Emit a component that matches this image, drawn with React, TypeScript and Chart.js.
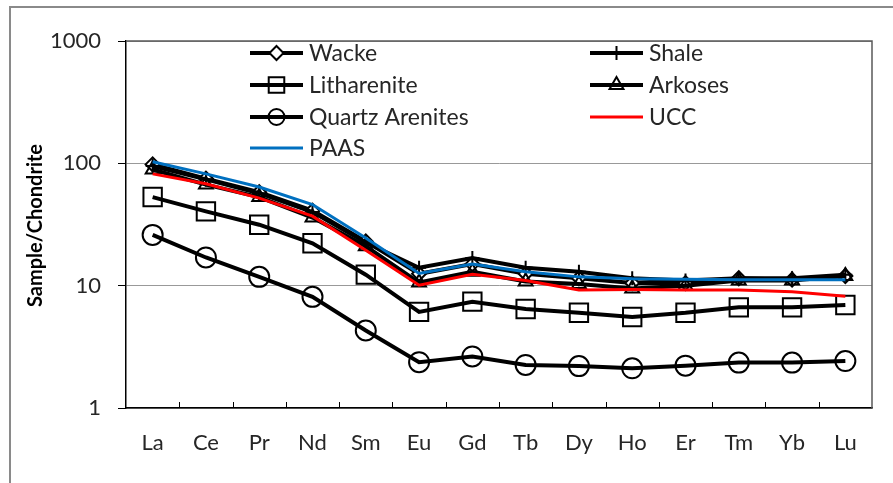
import React, { useEffect, useRef } from 'react';
import { Chart, registerables } from 'chart.js';

Chart.register(...registerables);

// Rare earth elements along the x axis
const elements = ['La', 'Ce', 'Pr', 'Nd', 'Sm', 'Eu', 'Gd', 'Tb', 'Dy', 'Ho', 'Er', 'Tm', 'Yb', 'Lu'];
const yTickValues = [1, 10, 100, 1000];

// Chondrite-normalised REE values
const wacke = [98, 75, 58, 41, 23, 12.5, 15, 12.5, 11.5, 10.5, 10.5, 11.5, 11.2, 12];
const shale = [95, 74, 57, 40, 22.5, 14, 16.8, 14, 13, 11.5, 11, 11.5, 11.5, 12.3];
const litharenite = [53, 40.5, 31.5, 22.2, 12.3, 6.1, 7.4, 6.45, 6.0, 5.55, 6.0, 6.65, 6.65, 6.95];
const arkoses = [89, 67, 53, 36, 21, 10.6, 13, 10.8, 10.3, 9.5, 10, 11, 11, 12];
const quartzArenites = [26, 17, 11.8, 8.1, 4.3, 2.37, 2.64, 2.25, 2.2, 2.11, 2.22, 2.35, 2.35, 2.42];
const ucc = [82, 68, 52, 37, 19.5, 10.1, 12.4, 11, 9.2, 9.3, 9.2, 9.2, 8.9, 8.2];
const paas = [103, 82, 64, 46, 24.5, 12.6, 15, 13, 11.8, 11.4, 11.3, 11.2, 11.2, 11.2];

const FONT = 'Lato, "Open Sans", sans-serif';
const TEXT = '#262626';

type Series = {
  label: string;
  data: number[];
  color: string;
  width: number;
  marker: 'rectRot' | 'cross' | 'rect' | 'triangle' | 'circle' | null;
  radius: number;
  fill: string;
  col: number;
  row: number;
};

const series: Series[] = [
  { label: 'Wacke', data: wacke, color: '#000', width: 4, marker: 'rectRot', radius: 7, fill: '#fff', col: 0, row: 0 },
  { label: 'Shale', data: shale, color: '#000', width: 4, marker: 'cross', radius: 7, fill: 'transparent', col: 1, row: 0 },
  { label: 'Litharenite', data: litharenite, color: '#000', width: 4, marker: 'rect', radius: 13, fill: 'transparent', col: 0, row: 1 },
  { label: 'Arkoses', data: arkoses, color: '#000', width: 4, marker: 'triangle', radius: 8, fill: 'transparent', col: 1, row: 1 },
  { label: 'Quartz Arenites', data: quartzArenites, color: '#000', width: 4, marker: 'circle', radius: 10, fill: 'transparent', col: 0, row: 2 },
  { label: 'UCC', data: ucc, color: '#ff0000', width: 3, marker: null, radius: 0, fill: 'transparent', col: 1, row: 2 },
  { label: 'PAAS', data: paas, color: '#0070c0', width: 3, marker: null, radius: 0, fill: 'transparent', col: 0, row: 3 },
];

function drawMarker(ctx: CanvasRenderingContext2D, s: Series, x: number, y: number) {
  if (!s.marker) return;
  const r = s.radius;
  ctx.save();
  ctx.beginPath();
  ctx.lineWidth = 2;
  ctx.strokeStyle = '#000';
  ctx.fillStyle = s.fill;
  switch (s.marker) {
    case 'rect': {
      const h = Math.SQRT1_2 * r;
      ctx.rect(x - h, y - h, 2 * h, 2 * h);
      break;
    }
    case 'rectRot':
      ctx.moveTo(x, y - r);
      ctx.lineTo(x + r, y);
      ctx.lineTo(x, y + r);
      ctx.lineTo(x - r, y);
      ctx.closePath();
      break;
    case 'triangle':
      for (let i = 0; i < 3; i++) {
        const a = (i * 2 * Math.PI) / 3;
        const px = x + Math.sin(a) * r;
        const py = y - Math.cos(a) * r;
        if (i === 0) ctx.moveTo(px, py);
        else ctx.lineTo(px, py);
      }
      ctx.closePath();
      break;
    case 'circle':
      ctx.arc(x, y, r, 0, Math.PI * 2);
      break;
    case 'cross':
      ctx.moveTo(x, y - r);
      ctx.lineTo(x, y + r);
      ctx.moveTo(x - r, y);
      ctx.lineTo(x + r, y);
      break;
  }
  if (s.marker !== 'cross') ctx.fill();
  ctx.stroke();
  ctx.restore();
}

const decorPlugin = {
  id: 'decor',
  beforeDraw(chart: Chart) {
    const ctx = chart.ctx;
    ctx.save();
    ctx.fillStyle = '#fff';
    ctx.fillRect(0, 0, chart.width, chart.height);
    // outer chart frame
    ctx.strokeStyle = '#8a8a8a';
    ctx.lineWidth = 2;
    ctx.strokeRect(10, 7, chart.width + 20, chart.height + 20);
    ctx.restore();
  },
  afterDraw(chart: Chart) {
    const ctx = chart.ctx;
    const { left, right, top, bottom } = chart.chartArea;
    ctx.save();
    // plot area frame on top and right
    ctx.strokeStyle = '#595959';
    ctx.lineWidth = 1.5;
    ctx.beginPath();
    ctx.moveTo(left, top);
    ctx.lineTo(right, top);
    ctx.lineTo(right, bottom);
    ctx.stroke();

    // category tick marks pointing inward
    ctx.strokeStyle = '#000';
    ctx.lineWidth = 1;
    const step = (right - left) / elements.length;
    for (let k = 1; k < elements.length; k++) {
      const x = Math.round(left + k * step) + 0.5;
      ctx.beginPath();
      ctx.moveTo(x, bottom);
      ctx.lineTo(x, bottom - 6);
      ctx.stroke();
    }

    // y axis title
    ctx.save();
    ctx.translate(36, (top + bottom) / 2 + 1);
    ctx.rotate(-Math.PI / 2);
    ctx.font = `bold 20px ${FONT}`;
    ctx.fillStyle = '#000';
    ctx.textAlign = 'center';
    ctx.textBaseline = 'middle';
    ctx.fillText('Sample/Chondrite', 0, 0);
    ctx.restore();

    // legend, two columns
    const colX = [250, 590];
    const rowY = [53, 85, 117, 148];
    ctx.font = `23px ${FONT}`;
    ctx.textBaseline = 'middle';
    ctx.textAlign = 'left';
    series.forEach((s) => {
      const x0 = colX[s.col];
      const y = rowY[s.row];
      ctx.strokeStyle = s.color;
      ctx.lineWidth = s.width;
      ctx.beginPath();
      ctx.moveTo(x0, y);
      ctx.lineTo(x0 + 53, y);
      ctx.stroke();
      drawMarker(ctx, { ...s, radius: s.marker === 'rect' ? 11 : s.marker === 'circle' ? 8 : s.radius }, x0 + 26.5, y);
      ctx.fillStyle = TEXT;
      ctx.fillText(s.label, x0 + 59, y + 1);
    });
    ctx.restore();
  },
};

export default function App() {
  const ref = useRef<HTMLCanvasElement>(null);

  useEffect(() => {
    document.body.style.margin = '0';
    const canvas = ref.current;
    if (!canvas) return;
    const chart = new Chart(canvas, {
      type: 'line',
      data: {
        labels: elements,
        datasets: series.map((s, i) => ({
          label: s.label,
          data: s.data,
          borderColor: s.color,
          borderWidth: s.width,
          backgroundColor: s.fill,
          pointStyle: s.marker || 'circle',
          pointRadius: s.radius,
          pointBorderWidth: 2,
          pointBorderColor: '#000',
          pointBackgroundColor: s.fill,
          tension: 0,
          fill: false,
          order: series.length - i,
        })),
      },
      options: {
        animation: false,
        responsive: true,
        maintainAspectRatio: false,
        layout: { padding: { left: 0, top: 41, right: 21, bottom: 0 } },
        plugins: {
          legend: { display: false },
          tooltip: { enabled: false },
        },
        scales: {
          x: {
            type: 'category',
            offset: true,
            grid: { display: true, drawOnChartArea: false, drawTicks: false, offset: true },
            border: { color: '#000', width: 1.5 },
            ticks: { color: TEXT, font: { family: FONT, size: 22 }, padding: 22, maxRotation: 0, autoSkip: false },
            afterFit(scale: any) {
              scale.height = 75;
            },
          },
          y: {
            type: 'logarithmic',
            min: 1,
            max: 1000,
            grid: { color: '#999', lineWidth: 1, tickColor: '#000', tickLength: 8 },
            border: { color: '#000', width: 1.5 },
            ticks: {
              color: TEXT,
              font: { family: FONT, size: 22 },
              padding: 17,
              callback: (v: any) => String(v),
            },
            afterBuildTicks(scale: any) {
              scale.ticks = yTickValues.map((v) => ({ value: v }));
            },
            afterFit(scale: any) {
              scale.width = 126;
            },
          },
        },
      },
      plugins: [decorPlugin],
    });
    return () => chart.destroy();
  }, []);

  return (
    <div style={{ width: 893, height: 483, position: 'relative' }}>
      <canvas ref={ref} />
    </div>
  );
}
